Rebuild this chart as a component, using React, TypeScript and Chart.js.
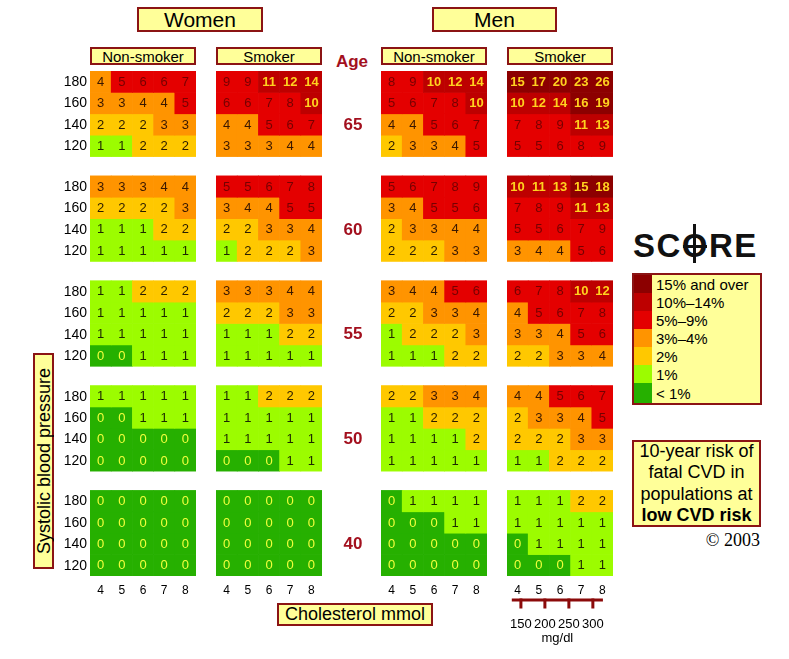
import React, { useEffect, useRef } from "react";
import { Chart, registerables } from "chart.js";

Chart.register(...registerables);

// ---------------- data ----------------
const ages = [65, 60, 55, 50, 40];
const sbpLevels = [180, 160, 140, 120];
const cholesterolMmol = ["4", "5", "6", "7", "8"];
const cholesterolMgdl = [150, 200, 250, 300];
const mgdlAxisMin = 121;
const mgdlAxisMax = 342;
const mgdlLineFrom = 131;
const mgdlLineTo = 321;

// each block: rows SBP 180,160,140,120 ; columns cholesterol 4..8
const womenNonSmoker = [
  [[4, 5, 6, 6, 7], [3, 3, 4, 4, 5], [2, 2, 2, 3, 3], [1, 1, 2, 2, 2]],
  [[3, 3, 3, 4, 4], [2, 2, 2, 2, 3], [1, 1, 1, 2, 2], [1, 1, 1, 1, 1]],
  [[1, 1, 2, 2, 2], [1, 1, 1, 1, 1], [1, 1, 1, 1, 1], [0, 0, 1, 1, 1]],
  [[1, 1, 1, 1, 1], [0, 0, 1, 1, 1], [0, 0, 0, 0, 0], [0, 0, 0, 0, 0]],
  [[0, 0, 0, 0, 0], [0, 0, 0, 0, 0], [0, 0, 0, 0, 0], [0, 0, 0, 0, 0]],
];
const womenSmoker = [
  [[9, 9, 11, 12, 14], [6, 6, 7, 8, 10], [4, 4, 5, 6, 7], [3, 3, 3, 4, 4]],
  [[5, 5, 6, 7, 8], [3, 4, 4, 5, 5], [2, 2, 3, 3, 4], [1, 2, 2, 2, 3]],
  [[3, 3, 3, 4, 4], [2, 2, 2, 3, 3], [1, 1, 1, 2, 2], [1, 1, 1, 1, 1]],
  [[1, 1, 2, 2, 2], [1, 1, 1, 1, 1], [1, 1, 1, 1, 1], [0, 0, 0, 1, 1]],
  [[0, 0, 0, 0, 0], [0, 0, 0, 0, 0], [0, 0, 0, 0, 0], [0, 0, 0, 0, 0]],
];
const menNonSmoker = [
  [[8, 9, 10, 12, 14], [5, 6, 7, 8, 10], [4, 4, 5, 6, 7], [2, 3, 3, 4, 5]],
  [[5, 6, 7, 8, 9], [3, 4, 5, 5, 6], [2, 3, 3, 4, 4], [2, 2, 2, 3, 3]],
  [[3, 4, 4, 5, 6], [2, 2, 3, 3, 4], [1, 2, 2, 2, 3], [1, 1, 1, 2, 2]],
  [[2, 2, 3, 3, 4], [1, 1, 2, 2, 2], [1, 1, 1, 1, 2], [1, 1, 1, 1, 1]],
  [[0, 1, 1, 1, 1], [0, 0, 0, 1, 1], [0, 0, 0, 0, 0], [0, 0, 0, 0, 0]],
];
const menSmoker = [
  [[15, 17, 20, 23, 26], [10, 12, 14, 16, 19], [7, 8, 9, 11, 13], [5, 5, 6, 8, 9]],
  [[10, 11, 13, 15, 18], [7, 8, 9, 11, 13], [5, 5, 6, 7, 9], [3, 4, 4, 5, 6]],
  [[6, 7, 8, 10, 12], [4, 5, 6, 7, 8], [3, 3, 4, 5, 6], [2, 2, 3, 3, 4]],
  [[4, 4, 5, 6, 7], [2, 3, 3, 4, 5], [2, 2, 2, 3, 3], [1, 1, 2, 2, 2]],
  [[1, 1, 1, 2, 2], [1, 1, 1, 1, 1], [0, 1, 1, 1, 1], [0, 0, 0, 1, 1]],
];

const riskBandMin = [15, 10, 5, 3, 2, 1, 0];
const riskBandLabels = ["15% and over", "10%–14%", "5%–9%", "3%–4%", "2%", "1%", "< 1%"];
const riskBandColors = ["#8c0000", "#bd0000", "#e40000", "#ff9400", "#ffc800", "#9cfc00", "#26b000"];
const riskBandTextColors = ["#ffd21f", "#ffd21f", "#760000", "#3a1800", "#2a1c00", "#1c2800", "#f2ff3c"];

const panelHeaders = ["Non-smoker", "Smoker", "Non-smoker", "Smoker"];

// ---------------- layout ----------------
const SANS = "'Liberation Sans', Arial, Helvetica, sans-serif";
const NARROW = "'Liberation Sans Narrow', 'Arial Narrow', 'Liberation Sans', Arial, sans-serif";
const AREA_TOP = 71;
const AREA_W = 106;
const AREA_H = 505;
const X_AXIS_H = 27;
const SBP_AXIS_W = 40;
const AGE_AXIS_W = 59;
const MGDL_AXIS_H = 52;
const BLOCK_ROWS = 4;
const BLOCK_GAP = 0.9;
const Y_MAX = ages.length * BLOCK_ROWS + (ages.length - 1) * BLOCK_GAP;
const BORDER = "2px solid #8b1414";
const BOX_BG = "#ffff99";
const AGE_COLOR = "#a3101e";
const SCALE_RED = "#8b0a0a";

Chart.defaults.font.family = SANS;

function band(v: number) {
  return riskBandMin.findIndex((m) => v >= m);
}
function blockBottom(ai: number) {
  return (ages.length - 1 - ai) * (BLOCK_ROWS + BLOCK_GAP);
}

const cellLabelPlugin = {
  id: "cellLabels",
  afterDatasetsDraw(chart: any) {
    const ctx = chart.ctx;
    ctx.save();
    ctx.textAlign = "center";
    ctx.textBaseline = "middle";
    chart.data.datasets.forEach((ds: any, i: number) => {
      const meta = chart.getDatasetMeta(i);
      meta.data.forEach((el: any, j: number) => {
        const v = ds.risks[j];
        const b = band(v);
        const p = el.getCenterPoint();
        ctx.font = (v >= 10 ? "bold " : "") + "13px " + NARROW;
        ctx.fillStyle = riskBandTextColors[b];
        ctx.fillText(String(v), p.x, p.y + 0.5);
      });
    });
    ctx.restore();
  },
};

// draws the y-axis labels (SBP or age) through the chart's y scale
const rowLabelPlugin = {
  id: "rowLabels",
  afterDraw(chart: any, _args: any, opts: any) {
    if (!opts || !opts.values) return;
    const ctx = chart.ctx;
    const y = chart.scales.y;
    const area = chart.chartArea;
    ctx.save();
    ctx.font = opts.font;
    ctx.fillStyle = opts.color;
    ctx.textBaseline = "middle";
    ctx.textAlign = opts.side === "left" ? "right" : "center";
    const x = opts.side === "left" ? area.left - opts.offset : area.right + opts.offset;
    opts.values.forEach((v: number, i: number) => {
      ctx.fillText(opts.labels[i], x, y.getPixelForValue(v) + 0.5);
    });
    ctx.restore();
  },
};

// draws the mg/dl ruler through the hidden x2 (mg/dl) scale
const mgdlPlugin = {
  id: "mgdlRuler",
  afterDraw(chart: any, _args: any, opts: any) {
    if (!opts || !opts.show) return;
    const s = chart.scales.x2;
    if (!s) return;
    const ctx = chart.ctx;
    const y0 = chart.chartArea.bottom + 24;
    ctx.save();
    ctx.fillStyle = SCALE_RED;
    const xa = s.getPixelForValue(mgdlLineFrom);
    const xb = s.getPixelForValue(mgdlLineTo);
    ctx.fillRect(xa, y0 - 1.5, xb - xa, 3);
    cholesterolMgdl.forEach((v) => {
      const x = s.getPixelForValue(v);
      ctx.fillRect(x - 1.5, y0 - 1.5, 3, 10);
    });
    ctx.fillStyle = "#000";
    ctx.font = "13px " + SANS;
    ctx.textAlign = "center";
    ctx.textBaseline = "middle";
    cholesterolMgdl.forEach((v) => {
      ctx.fillText(String(v), s.getPixelForValue(v), y0 + 24);
    });
    ctx.fillText("mg/dl", (xa + xb) / 2, y0 + 38);
    ctx.restore();
  },
};

type PanelProps = {
  table: number[][][];
  left: number;
  sbpAxis?: boolean;
  ageAxis?: boolean;
  mgdlAxis?: boolean;
};

function PanelChart({ table, left, sbpAxis, ageAxis, mgdlAxis }: PanelProps) {
  const ref = useRef<HTMLCanvasElement | null>(null);
  const cLeft = left - (sbpAxis ? SBP_AXIS_W : 0);
  const cWidth = AREA_W + (sbpAxis ? SBP_AXIS_W : 0) + (ageAxis ? AGE_AXIS_W : 0);
  const cHeight = AREA_H + X_AXIS_H + (mgdlAxis ? MGDL_AXIS_H : 0);

  useEffect(() => {
    if (!ref.current) return;
    const datasets: any[] = [];
    table.forEach((block, ai) =>
      block.forEach((row, ri) => {
        const lo = blockBottom(ai) + (BLOCK_ROWS - 1 - ri);
        datasets.push({
          data: row.map(() => [lo, lo + 1]),
          risks: row,
          backgroundColor: row.map((v) => riskBandColors[band(v)]),
          borderWidth: 0,
          grouped: false,
          barPercentage: 1,
          categoryPercentage: 1,
        });
      })
    );

    const sbpTickValues: number[] = [];
    const sbpTickLabels: string[] = [];
    ages.forEach((_, ai) =>
      sbpLevels.forEach((s, ri) => {
        sbpTickValues.push(blockBottom(ai) + (BLOCK_ROWS - 1 - ri) + 0.5);
        sbpTickLabels.push(String(s));
      })
    );
    const ageTickValues = ages.map((_, ai) => blockBottom(ai) + 1.5);
    const ageTickLabels = ages.map((a) => String(a));

    let rowLabels: any = {};
    if (sbpAxis) {
      rowLabels = {
        values: sbpTickValues,
        labels: sbpTickLabels,
        side: "left",
        offset: 3,
        font: "14px " + SANS,
        color: "#000",
      };
    } else if (ageAxis) {
      rowLabels = {
        values: ageTickValues,
        labels: ageTickLabels,
        side: "right",
        offset: 31,
        font: "bold 17px " + SANS,
        color: AGE_COLOR,
      };
    }

    const scales: any = {
      x: {
        type: "category",
        position: "bottom",
        weight: 0,
        grid: { display: false, drawTicks: false },
        border: { display: false },
        ticks: { color: "#000", font: { size: 12, family: SANS }, padding: 7, maxRotation: 0, autoSkip: false },
        afterFit: (s: any) => {
          s.height = X_AXIS_H;
        },
      },
      y: {
        type: "linear",
        min: 0,
        max: Y_MAX,
        display: false,
      },
    };
    if (mgdlAxis) {
      scales.x2 = {
        type: "linear",
        position: "bottom",
        display: false,
        offset: false,
        grid: { offset: false },
        min: mgdlAxisMin,
        max: mgdlAxisMax,
      };
    }

    const chart = new Chart(ref.current, {
      type: "bar",
      data: { labels: cholesterolMmol, datasets },
      options: {
        responsive: false,
        animation: false,
        devicePixelRatio: 1,
        layout: {
          padding: {
            left: sbpAxis ? SBP_AXIS_W : 0,
            right: ageAxis ? AGE_AXIS_W : 0,
            top: 0,
            bottom: mgdlAxis ? MGDL_AXIS_H : 0,
          },
        },
        plugins: {
          legend: { display: false },
          tooltip: { enabled: false },
          title: { display: false },
          rowLabels,
          mgdlRuler: { show: !!mgdlAxis },
        },
        scales,
      } as any,
      plugins: [cellLabelPlugin as any, rowLabelPlugin as any, mgdlPlugin as any],
    });
    return () => chart.destroy();
  }, []);

  return (
    <canvas
      ref={ref}
      width={cWidth}
      height={cHeight}
      style={{ position: "absolute", left: cLeft, top: AREA_TOP, width: cWidth, height: cHeight }}
    />
  );
}

function Box(props: {
  left: number;
  top: number;
  width: number;
  height: number;
  fontSize: number;
  children: any;
  column?: boolean;
  style?: any;
}) {
  return (
    <div
      style={{
        position: "absolute",
        left: props.left,
        top: props.top,
        width: props.width,
        height: props.height,
        boxSizing: "border-box",
        border: BORDER,
        background: BOX_BG,
        display: "flex",
        flexDirection: props.column ? "column" : "row",
        alignItems: "center",
        justifyContent: "center",
        fontSize: props.fontSize,
        fontFamily: SANS,
        color: "#000",
        whiteSpace: "nowrap",
        ...(props.style || {}),
      }}
    >
      {props.children}
    </div>
  );
}

function ScoreLogo() {
  const line = { position: "absolute" as const, background: "#111" };
  return (
    <div
      style={{
        position: "absolute",
        left: 633,
        top: 226,
        height: 40,
        lineHeight: "40px",
        fontSize: 33,
        fontWeight: "bold",
        fontFamily: SANS,
        letterSpacing: 1.5,
        color: "#111",
        whiteSpace: "nowrap",
      }}
    >
      <span>SC</span>
      <span style={{ position: "relative", display: "inline-block", height: 40 }}>
        O
        <span style={{ ...line, left: "calc(50% - 2.5px)", width: 3, top: -2, height: 39 }} />
        <span style={{ ...line, left: 1, right: 2.5, top: 18.5, height: 3 }} />
      </span>
      <span>RE</span>
    </div>
  );
}

function Legend() {
  const heights = [18, 18, 18, 18, 18, 18, 20];
  return (
    <div
      style={{
        position: "absolute",
        left: 632,
        top: 273,
        width: 130,
        height: 132,
        boxSizing: "border-box",
        border: BORDER,
        background: BOX_BG,
        fontFamily: SANS,
      }}
    >
      {riskBandLabels.map((lab, i) => (
        <div key={lab} style={{ display: "flex", height: heights[i], alignItems: "center" }}>
          <div style={{ width: 18, height: "100%", background: riskBandColors[i] }} />
          <div style={{ marginLeft: 4, fontSize: 15, color: "#000", whiteSpace: "nowrap" }}>{lab}</div>
        </div>
      ))}
    </div>
  );
}

export default function App() {
  const panelLefts = [90, 216, 381, 507];
  return (
    <div
      style={{
        position: "absolute",
        left: 0,
        top: 0,
        width: 789,
        height: 659,
        background: "#fff",
        overflow: "hidden",
        fontFamily: SANS,
      }}
    >
      <Box left={137} top={7} width={126} height={25} fontSize={21}>Women</Box>
      <Box left={432} top={7} width={125} height={25} fontSize={21}>Men</Box>
      {panelHeaders.map((h, i) => (
        <Box key={i} left={panelLefts[i]} top={47} width={AREA_W} height={18} fontSize={15}>
          {h}
        </Box>
      ))}
      <div
        style={{
          position: "absolute",
          left: 323,
          top: 51,
          width: 58,
          height: 22,
          lineHeight: "22px",
          textAlign: "center",
          fontSize: 17,
          fontWeight: "bold",
          color: AGE_COLOR,
          fontFamily: SANS,
        }}
      >
        Age
      </div>

      <PanelChart table={womenNonSmoker} left={panelLefts[0]} sbpAxis />
      <PanelChart table={womenSmoker} left={panelLefts[1]} ageAxis />
      <PanelChart table={menNonSmoker} left={panelLefts[2]} />
      <PanelChart table={menSmoker} left={panelLefts[3]} mgdlAxis />

      <Box left={33} top={353} width={21} height={216} fontSize={18}>
        <span style={{ writingMode: "vertical-rl", transform: "rotate(180deg)", lineHeight: "18px" }}>
          Systolic blood pressure
        </span>
      </Box>
      <Box left={277} top={603} width={156} height={23} fontSize={18}>Cholesterol mmol</Box>

      <ScoreLogo />
      <Legend />

      <Box
        left={632}
        top={440}
        width={129}
        height={87}
        fontSize={18}
        column
        style={{ lineHeight: "21.5px" }}
      >
        <div>10-year risk of</div>
        <div>fatal CVD in</div>
        <div>populations at</div>
        <div style={{ fontWeight: "bold" }}>low CVD risk</div>
      </Box>
      <div
        style={{
          position: "absolute",
          left: 640,
          width: 120,
          top: 530,
          lineHeight: "20px",
          textAlign: "right",
          fontSize: 18,
          fontFamily: "'Liberation Serif', 'Times New Roman', serif",
          color: "#000",
        }}
      >
        © 2003
      </div>
    </div>
  );
}
